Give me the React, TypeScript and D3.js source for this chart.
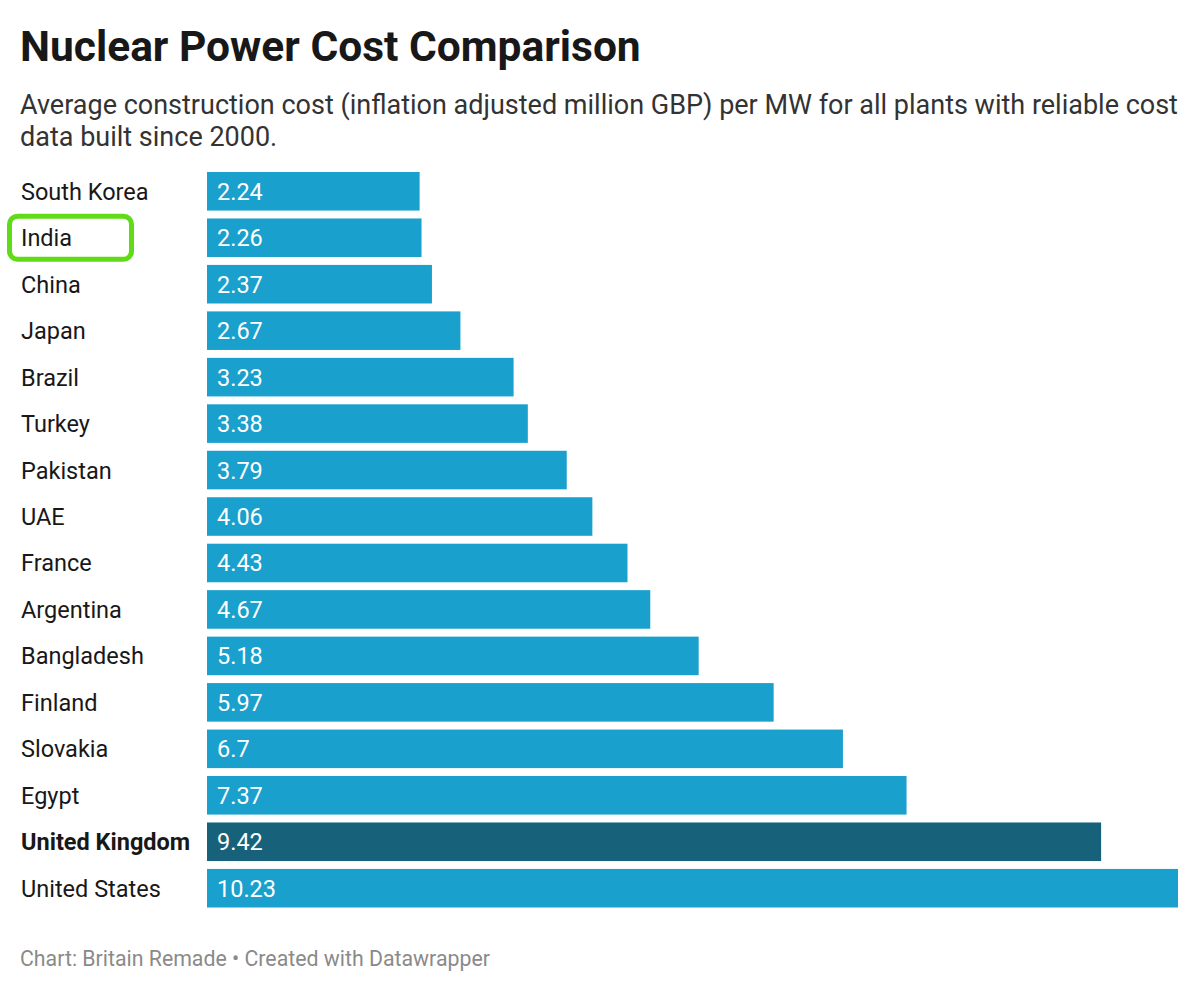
import React, { useRef, useEffect } from 'react';
import * as d3 from 'd3';

const countries = [
  'South Korea', 'India', 'China', 'Japan', 'Brazil', 'Turkey', 'Pakistan', 'UAE',
  'France', 'Argentina', 'Bangladesh', 'Finland', 'Slovakia', 'Egypt',
  'United Kingdom', 'United States',
];
const costs = [2.24, 2.26, 2.37, 2.67, 3.23, 3.38, 3.79, 4.06, 4.43, 4.67, 5.18, 5.97, 6.7, 7.37, 9.42, 10.23];
const highlighted = 'United Kingdom';
const circled = 'India';

const title = 'Nuclear Power Cost Comparison';
const subtitleLines = [
  'Average construction cost (inflation adjusted million GBP) per MW for all plants with reliable cost',
  'data built since 2000.',
];
const footer = 'Chart: Britain Remade \u2022 Created with Datawrapper';

export default function App() {
  const svgRef = useRef<SVGSVGElement>(null);

  useEffect(() => {
    if (!svgRef.current) return;
    const width = 1200;
    const height = 991;
    const font = 'Roboto, sans-serif';

    const svg = d3.select(svgRef.current);
    svg.selectAll('*').remove();
    svg.attr('width', width).attr('height', height);

    svg.append('rect').attr('width', width).attr('height', height).attr('fill', '#fff');

    // Header
    svg.append('text')
      .attr('x', 20)
      .attr('y', 61)
      .style('font-family', font)
      .style('font-size', '42.5px')
      .style('font-weight', '700')
      .style('fill', '#181818')
      .text(title);

    svg.append('g')
      .selectAll('text')
      .data(subtitleLines)
      .enter()
      .append('text')
      .attr('x', 20)
      .attr('y', (_, i) => 114 + i * 32)
      .style('font-family', font)
      .style('font-size', '27px')
      .style('fill', '#333')
      .text(d => d);

    const data = countries.map((c, i) => ({ country: c, cost: costs[i] }));

    const x = d3.scaleLinear()
      .domain([0, d3.max(costs) || 10])
      .range([207, 1178]);

    const y = d3.scaleBand()
      .domain(countries)
      .range([172, 907.5])
      .paddingInner(0.17)
      .paddingOuter(0);

    // Bars
    svg.append('g')
      .selectAll('rect')
      .data(data)
      .enter()
      .append('rect')
      .attr('x', x(0))
      .attr('y', d => y(d.country) || 0)
      .attr('width', d => x(d.cost) - x(0))
      .attr('height', y.bandwidth())
      .attr('fill', d => d.country === highlighted ? '#17617b' : '#1aa0cd');

    // Value labels inside bars
    svg.append('g')
      .selectAll('text')
      .data(data)
      .enter()
      .append('text')
      .attr('x', x(0) + 10)
      .attr('y', d => (y(d.country) || 0) + y.bandwidth() / 2)
      .attr('dy', '0.36em')
      .style('font-family', font)
      .style('font-size', '23.5px')
      .style('fill', '#fff')
      .text(d => d.cost);

    // Category labels
    svg.append('g')
      .selectAll('text')
      .data(data)
      .enter()
      .append('text')
      .attr('x', 21)
      .attr('y', d => (y(d.country) || 0) + y.bandwidth() / 2)
      .attr('dy', '0.36em')
      .style('font-family', font)
      .style('font-size', '23.5px')
      .style('font-weight', d => d.country === highlighted ? '700' : '400')
      .style('fill', '#181818')
      .text(d => d.country);

    // Green annotation box around India
    const cy = (y(circled) || 0) + y.bandwidth() / 2;
    svg.append('rect')
      .attr('x', 9.5)
      .attr('y', cy - 21.5)
      .attr('width', 122)
      .attr('height', 43)
      .attr('rx', 8)
      .attr('fill', 'none')
      .attr('stroke', '#5fdc17')
      .attr('stroke-width', 5);

    // Footer
    svg.append('text')
      .attr('x', 20)
      .attr('y', 966)
      .style('font-family', font)
      .style('font-size', '21.3px')
      .style('fill', '#8a8a8a')
      .text(footer);
  }, []);

  return (
    <div style={{ position: 'absolute', left: 0, top: 0 }}>
      <svg ref={svgRef} style={{ display: 'block' }} />
    </div>
  );
}
